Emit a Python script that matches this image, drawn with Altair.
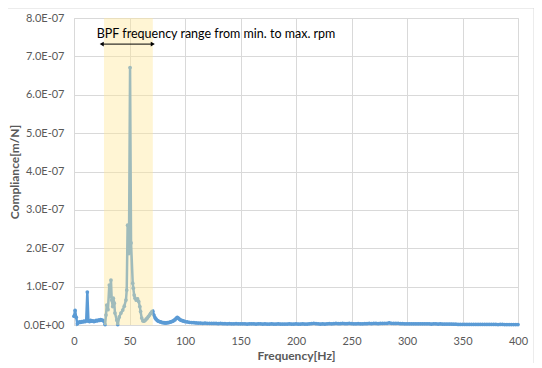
import altair as alt
import pandas as pd

# Frequency [Hz] and compliance values (in units of 1e-8 m/N)
freq_low = [0, 1, 2, 3, 4, 5, 6, 7, 8, 9, 10, 11, 12, 13, 14, 15, 16, 17, 18, 19,
            20, 21, 22, 23, 24, 25, 26, 27, 28]
comp_low = [2.3, 3.8, 2.0, 0.3, 0.6, 0.8, 0.7, 0.9, 0.8, 1.0, 0.9, 1.1, 8.6, 1.0,
            0.9, 1.2, 1.0, 1.1, 0.9, 1.0, 1.2, 1.1, 1.3, 1.2, 1.4, 1.3, 1.2, 1.0, 0.1]

freq_band = [28.8, 29.5, 30.6, 31.8, 32.4, 33.3, 34.0, 34.9, 35.4, 36.3, 36.9, 38.5,
             39.4, 40.8, 42.3, 43.9, 45.3, 46.8, 47.5, 48.3, 49.5, 50.5, 51.4, 52.9,
             53.4, 54.2, 55.0, 56.0, 57.3, 58.3, 59.3, 60.0, 61.0, 62.0, 63.0, 64.0,
             65.0, 66.0, 67.0, 68.0, 69.0, 70.0, 71.0]
comp_band = [2.6, 5.2, 4.0, 10.4, 7.4, 11.7, 6.5, 4.8, 7.0, 5.7, 3.1, 1.3,
             0.1, 2.1, 3.1, 3.9, 4.9, 6.5, 9.1, 26.0, 18.6, 67.1, 21.4, 10.9,
             9.6, 7.8, 7.0, 6.5, 6.8, 6.1, 4.8, 3.5, 1.8, 1.1, 1.0, 1.2,
             1.5, 1.8, 2.2, 2.6, 3.0, 3.4, 3.6]

freq_mid = [72, 73, 74, 75, 76, 77, 78, 79, 80, 81, 82, 83, 84, 85, 86, 87, 88, 89,
            90, 91, 92, 93, 94, 95, 96, 97, 98, 99, 100]
comp_mid = [2.6, 1.9, 1.5, 1.2, 1.0, 0.9, 0.8, 0.7, 0.6, 0.6, 0.55, 0.55, 0.6, 0.65,
            0.7, 0.8, 0.9, 1.0, 1.2, 1.4, 1.7, 2.0, 1.8, 1.5, 1.3, 1.2, 1.1, 1.0, 0.9]

freq_tail = list(range(102, 401, 2))
comp_tail = [0.8, 0.7, 0.65, 0.6, 0.55, 0.5, 0.5, 0.45, 0.5, 0.45, 0.45, 0.4, 0.4, 0.4, 0.35,
             0.4, 0.35, 0.35, 0.3, 0.35, 0.3, 0.3, 0.35, 0.3, 0.3, 0.3, 0.3, 0.25, 0.3, 0.3,
             0.3, 0.25, 0.3, 0.3, 0.25, 0.3, 0.25, 0.25, 0.3, 0.25, 0.25, 0.3, 0.25, 0.25, 0.25,
             0.25, 0.3, 0.25, 0.25, 0.3, 0.25, 0.25, 0.3, 0.25, 0.25, 0.3, 0.35, 0.45, 0.35, 0.3,
             0.25, 0.3, 0.25, 0.3, 0.35, 0.3, 0.35, 0.4, 0.35, 0.35, 0.4, 0.35, 0.35, 0.4, 0.35,
             0.3, 0.3, 0.35, 0.3, 0.3, 0.35, 0.35, 0.4, 0.35, 0.4, 0.4, 0.35, 0.4, 0.4, 0.45,
             0.45, 0.55, 0.45, 0.4, 0.4, 0.45, 0.35, 0.35, 0.3, 0.3, 0.3, 0.3, 0.3, 0.3, 0.3,
             0.3, 0.3, 0.3, 0.3, 0.3, 0.25, 0.3, 0.3, 0.25, 0.3, 0.25, 0.25, 0.25, 0.25, 0.25,
             0.2, 0.2, 0.15, 0.15, 0.15, 0.15, 0.15, 0.15, 0.15, 0.15, 0.15, 0.15, 0.15, 0.15, 0.15,
             0.15, 0.15, 0.15, 0.15, 0.15, 0.1, 0.15, 0.15, 0.1, 0.1, 0.1, 0.1, 0.1, 0.1, 0.1]

y_ticks = [0, 1e-7, 2e-7, 3e-7, 4e-7, 5e-7, 6e-7, 7e-7, 8e-7]
x_ticks = [0, 50, 100, 150, 200, 250, 300, 350, 400]

band_range = [27, 71]
arrow_freq = [25, 71]
arrow_level = 7.32e-7
label_pos = [20.5, 7.58e-7]
label_text = "BPF frequency range from min. to max. rpm"

freqs = freq_low + freq_band + freq_mid + freq_tail
comps = [v * 1e-8 for v in comp_low + comp_band + comp_mid + comp_tail]
df = pd.DataFrame({"f": freqs, "c": comps})

FONT = "Lato"
GRAY = "#595959"
BLUE = "#5B9BD5"

x_scale = alt.Scale(domain=[0, 400], nice=False)
y_scale = alt.Scale(domain=[0, 8e-7], nice=False)

x_axis = alt.Axis(title="Frequency[Hz]", values=x_ticks, grid=True,
                  gridColor="#D9D9D9", domain=True, domainColor="#D9D9D9", ticks=False,
                  labelFlush=False, labelOverlap=False,
                  labelPadding=10, labelFontSize=11, labelColor=GRAY, labelFont=FONT,
                  titleFont=FONT, titleFontSize=12, titleColor=GRAY, titleFontWeight="bold",
                  titlePadding=4)
y_axis = alt.Axis(title="Compliance[m/N]", values=y_ticks, grid=True,
                  gridColor="#D9D9D9", domain=False, ticks=False, labelPadding=10,
                  labelFlush=False, labelOverlap=False,
                  labelFontSize=11, labelColor=GRAY, labelFont=FONT,
                  labelExpr="datum.value == 0 ? '0.0E+00' : format(datum.value*1e7, '.1f') + 'E-07'",
                  titleFont=FONT, titleFontSize=12, titleColor=GRAY, titleFontWeight="bold",
                  titlePadding=2)


def X(field):
    return alt.X(field, scale=x_scale, axis=x_axis)


def Y(field):
    return alt.Y(field, scale=y_scale, axis=y_axis)


line = alt.Chart(df).mark_line(color=BLUE, strokeWidth=2.5, point=alt.OverlayMarkDef(
    filled=True, size=14, color=BLUE)).encode(x=X("f:Q"), y=Y("c:Q"))

band_df = pd.DataFrame({"f1": [band_range[0]], "f2": [band_range[1]]})
band = alt.Chart(band_df).mark_rect(color="#FFE699", opacity=0.42).encode(
    x=X("f1:Q"), x2="f2:Q", y=alt.value(0), y2=alt.value(307))

arrow_df = pd.DataFrame({"f": arrow_freq, "c": [arrow_level, arrow_level]})
arrow_line = alt.Chart(arrow_df).mark_line(color="black", strokeWidth=1).encode(
    x=X("f:Q"), y=Y("c:Q"))
head_df = pd.DataFrame({"f": arrow_freq, "c": [arrow_level, arrow_level],
                        "s": ["triangle-left", "triangle-right"]})
heads = alt.Chart(head_df).mark_point(filled=True, color="black", size=22, opacity=1).encode(
    x=X("f:Q"), y=Y("c:Q"), shape=alt.Shape("s:N", scale=None))

label_df = pd.DataFrame({"f": [label_pos[0]], "c": [label_pos[1]], "t": [label_text]})
label = alt.Chart(label_df).mark_text(align="left", baseline="middle", font=FONT,
                                      fontSize=12.5, color="black").encode(
    x=X("f:Q"), y=Y("c:Q"), text="t:N")

border_top = alt.Chart(band_df).mark_rule(color="#D9D9D9", strokeWidth=1).encode(
    x=alt.value(-74), x2=alt.value(460), y=alt.value(-10))
border_right = alt.Chart(band_df).mark_rule(color="#D9D9D9", strokeWidth=1).encode(
    x=alt.value(460), y=alt.value(-10), y2=alt.value(345))

chart = alt.layer(line, band, arrow_line, heads, label, border_top, border_right).properties(
    width=444, height=307,
    autosize=alt.AutoSizeParams(type="none"),
    padding={"left": 66, "top": 10, "right": 16, "bottom": 40},
).configure_view(strokeWidth=0).configure(background="white")

chart.save("out.html", embed_options={"renderer": "svg", "actions": False})
